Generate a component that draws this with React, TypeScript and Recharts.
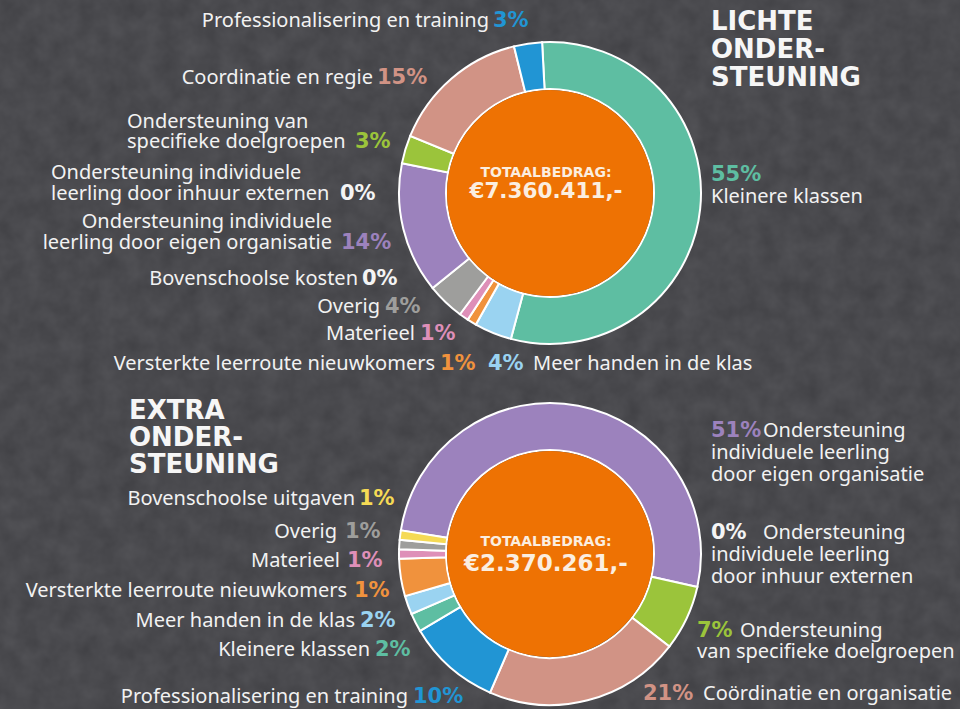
import { PieChart, Pie, Cell } from "recharts";

// Lichte ondersteuning, clockwise from the top
const LICHT_NAMES = [
  "Kleinere klassen",
  "Meer handen in de klas",
  "Versterkte leerroute nieuwkomers",
  "Materieel",
  "Overig",
  "Bovenschoolse kosten",
  "Ondersteuning individuele\nleerling door eigen organisatie",
  "Ondersteuning individuele\nleerling door inhuur externen",
  "Ondersteuning van\nspecifieke doelgroepen",
  "Coordinatie en regie",
  "Professionalisering en training",
];
const LICHT_VALUES = [55, 4, 1, 1, 4, 0, 14, 0, 3, 15, 3];
const LICHT_PCT = ["55%", "4%", "1%", "1%", "4%", "0%", "14%", "0%", "3%", "15%", "3%"];
const LICHT_TOTAL = "€7.360.411,-";

// Extra ondersteuning, clockwise from the left
const EXTRA_NAMES = [
  "Ondersteuning\nindividuele leerling\ndoor eigen organisatie",
  "Ondersteuning\nindividuele leerling\ndoor inhuur externen",
  "Ondersteuning\nvan specifieke doelgroepen",
  "Coördinatie en organisatie",
  "Professionalisering en training",
  "Kleinere klassen",
  "Meer handen in de klas",
  "Versterkte leerroute nieuwkomers",
  "Materieel",
  "Overig",
  "Bovenschoolse uitgaven",
];
const EXTRA_VALUES = [51, 0, 7, 21, 10, 2, 2, 4, 1, 1, 1];
const EXTRA_PCT = ["51%", "0%", "7%", "21%", "10%", "2%", "2%", "1%", "1%", "1%", "1%"];
const EXTRA_TOTAL = "€2.370.261,-";

const TEAL = "#5ebea2";
const LBLUE = "#9ad3f1";
const ORANGE = "#f0923d";
const PINK = "#de8fb8";
const GRAY = "#9e9e9c";
const PURPLE = "#9c82bd";
const GREEN = "#9bc43b";
const SALMON = "#d19385";
const BLUE = "#2195d4";
const YELLOW = "#f5da55";
const WHITE = "#f4f4f4";

const LICHT_COLORS = [TEAL, LBLUE, ORANGE, PINK, GRAY, WHITE, PURPLE, WHITE, GREEN, SALMON, BLUE];
const EXTRA_COLORS = [PURPLE, WHITE, GREEN, SALMON, BLUE, TEAL, LBLUE, ORANGE, PINK, GRAY, YELLOW];

const LABEL_FONT = "'Noto Sans', sans-serif";
const BOLD_FONT = "'DejaVu Sans', sans-serif";

type Place = {
  i: number;
  xs: number[];
  y: number;
  gap?: number;
  anchor: "start" | "end";
  px: number;
  py: number;
};

const LICHT_PLACES: Place[] = [
  { i: 10, xs: [489], y: 27, anchor: "end", px: 493, py: 27 },
  { i: 9, xs: [373], y: 84, anchor: "end", px: 377, py: 84 },
  { i: 8, xs: [127, 127], y: 128, gap: 20, anchor: "start", px: 355, py: 148 },
  { i: 7, xs: [51, 51], y: 179, gap: 21, anchor: "start", px: 340, py: 200 },
  { i: 6, xs: [332, 332], y: 228, gap: 21, anchor: "end", px: 341, py: 249 },
  { i: 5, xs: [358], y: 285, anchor: "end", px: 362, py: 285 },
  { i: 4, xs: [380], y: 313, anchor: "end", px: 385, py: 313 },
  { i: 3, xs: [415], y: 340, anchor: "end", px: 420, py: 340 },
  { i: 2, xs: [435], y: 370, anchor: "end", px: 440, py: 370 },
  { i: 1, xs: [533], y: 370, anchor: "start", px: 488, py: 370 },
  { i: 0, xs: [711], y: 203, anchor: "start", px: 711, py: 181 },
];

const EXTRA_PLACES: Place[] = [
  { i: 10, xs: [355], y: 505, anchor: "end", px: 359, py: 505 },
  { i: 9, xs: [337], y: 538, anchor: "end", px: 345, py: 538 },
  { i: 8, xs: [340], y: 567, anchor: "end", px: 347, py: 567 },
  { i: 7, xs: [347], y: 597, anchor: "end", px: 354, py: 597 },
  { i: 6, xs: [355], y: 627, anchor: "end", px: 360, py: 627 },
  { i: 5, xs: [370], y: 656, anchor: "end", px: 375, py: 656 },
  { i: 4, xs: [408], y: 703, anchor: "end", px: 413, py: 703 },
  { i: 0, xs: [763, 711, 711], y: 437, gap: 22, anchor: "start", px: 711, py: 437 },
  { i: 1, xs: [763, 711, 711], y: 539, gap: 22, anchor: "start", px: 711, py: 539 },
  { i: 2, xs: [740, 697], y: 637, gap: 21, anchor: "start", px: 697, py: 637 },
  { i: 3, xs: [703], y: 700, anchor: "start", px: 643, py: 700 },
];

function Labels({ places, names, pct, colors }: { places: Place[]; names: string[]; pct: string[]; colors: string[] }) {
  return (
    <>
      {places.map((p) => {
        const lines = names[p.i].split("\n");
        return (
          <g key={p.i}>
            {lines.map((line, k) => (
              <text
                key={k}
                x={p.xs[k]}
                y={p.y + k * (p.gap ?? 21)}
                textAnchor={p.anchor}
                fontFamily={LABEL_FONT}
                fontSize={20}
                fill="#f2f2f2"
              >
                {line}
              </text>
            ))}
            <text x={p.px} y={p.py} fontFamily={BOLD_FONT} fontWeight="bold" fontSize={21} fill={colors[p.i]}>
              {pct[p.i]}
            </text>
          </g>
        );
      })}
    </>
  );
}

function Title({ x, y, gap, lines }: { x: number; y: number; gap: number; lines: string[] }) {
  return (
    <>
      {lines.map((l, k) => (
        <text key={k} x={x} y={y + k * gap} fontFamily={BOLD_FONT} fontWeight="bold" fontSize={26} fill="#f6f6f6">
          {l}
        </text>
      ))}
    </>
  );
}

export default function App() {
  const licht = LICHT_VALUES.map((value, i) => ({ name: LICHT_NAMES[i], value }));
  const extra = EXTRA_VALUES.map((value, i) => ({ name: EXTRA_NAMES[i], value }));
  const center = [{ name: "totaal", value: 1 }];

  return (
    <div style={{ position: "relative", width: 960, height: 709, background: "#404044", overflow: "hidden" }}>
      <style>{`body{margin:0}`}</style>
      <svg width={960} height={709} style={{ position: "absolute", left: 0, top: 0 }}>
        <filter id="chalk">
          <feTurbulence type="fractalNoise" baseFrequency="0.05" numOctaves={3} seed={4} />
          <feColorMatrix values="0 0 0 0 0.32  0 0 0 0 0.32  0 0 0 0 0.34  0 0 0 0.22 0" />
        </filter>
        <rect width={960} height={709} filter="url(#chalk)" />
      </svg>
      <div style={{ position: "absolute", left: 0, top: 0 }}>
        <PieChart width={960} height={709}>
          <Pie
            data={licht}
            dataKey="value"
            cx={545}
            cy={188}
            innerRadius={104}
            outerRadius={151}
            startAngle={93}
            endAngle={-267}
            stroke="#ffffff"
            strokeWidth={2}
            isAnimationActive={false}
          >
            {licht.map((d, i) => (
              <Cell key={d.name} fill={LICHT_COLORS[i]} />
            ))}
          </Pie>
          <Pie
            data={center}
            dataKey="value"
            cx={545}
            cy={188}
            innerRadius={0}
            outerRadius={103}
            fill="#ee7203"
            stroke="none"
            isAnimationActive={false}
          />
          <Pie
            data={extra}
            dataKey="value"
            cx={545}
            cy={549}
            innerRadius={104}
            outerRadius={151}
            startAngle={171}
            endAngle={-189}
            stroke="#ffffff"
            strokeWidth={2}
            isAnimationActive={false}
          >
            {extra.map((d, i) => (
              <Cell key={d.name} fill={EXTRA_COLORS[i]} />
            ))}
          </Pie>
          <Pie
            data={center}
            dataKey="value"
            cx={545}
            cy={549}
            innerRadius={0}
            outerRadius={103}
            fill="#ee7203"
            stroke="none"
            isAnimationActive={false}
          />
        </PieChart>
      </div>
      <svg width={960} height={709} style={{ position: "absolute", left: 0, top: 0, pointerEvents: "none" }}>
        <Title x={711} y={30} gap={28} lines={["LICHTE", "ONDER-", "STEUNING"]} />
        <Title x={129} y={419} gap={27} lines={["EXTRA", "ONDER-", "STEUNING"]} />
        <Labels places={LICHT_PLACES} names={LICHT_NAMES} pct={LICHT_PCT} colors={LICHT_COLORS} />
        <Labels places={EXTRA_PLACES} names={EXTRA_NAMES} pct={EXTRA_PCT} colors={EXTRA_COLORS} />
        <text x={546} y={177} textAnchor="middle" fontFamily={BOLD_FONT} fontWeight="bold" fontSize={14} fill="#fbeee0">
          TOTAALBEDRAG:
        </text>
        <text x={546} y={198} textAnchor="middle" fontFamily={BOLD_FONT} fontWeight="bold" fontSize={21.5} fill="#fbeee0">
          {LICHT_TOTAL}
        </text>
        <text x={546} y={546} textAnchor="middle" fontFamily={BOLD_FONT} fontWeight="bold" fontSize={14} fill="#fbeee0">
          TOTAALBEDRAG:
        </text>
        <text x={546} y={571} textAnchor="middle" fontFamily={BOLD_FONT} fontWeight="bold" fontSize={23} fill="#fbeee0">
          {EXTRA_TOTAL}
        </text>
      </svg>
    </div>
  );
}
